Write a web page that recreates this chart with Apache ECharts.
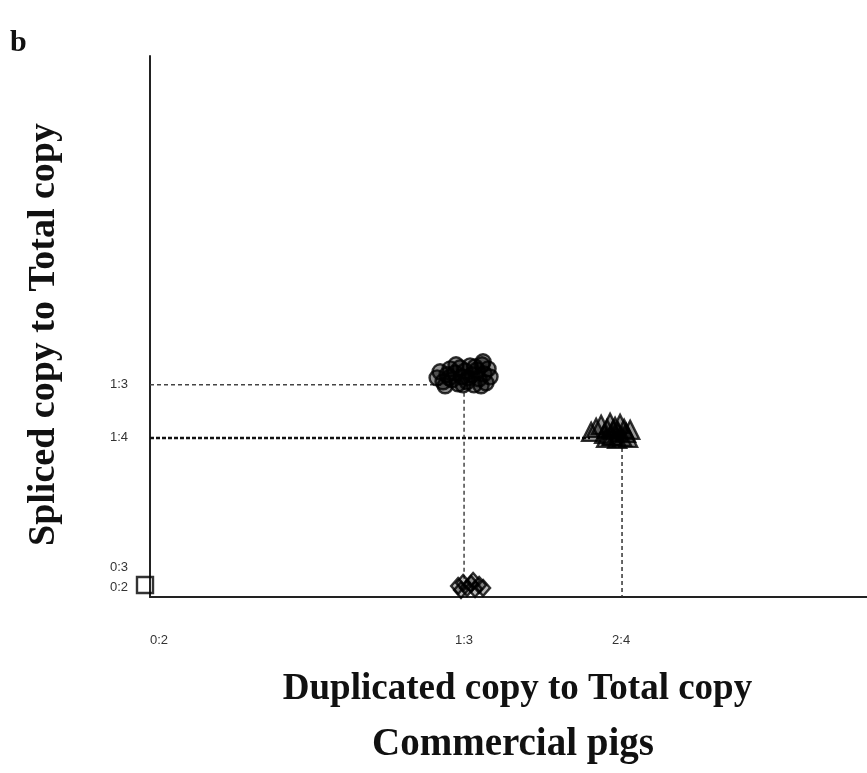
<!DOCTYPE html>
<html><head><meta charset="utf-8">
<script src="https://cdn.jsdelivr.net/npm/echarts@6/dist/echarts.min.js"></script>
<style>html,body{margin:0;padding:0;background:#fff}#c{width:867px;height:773px}</style>
</head><body><div id="c"></div>
<script>
// Ratio ticks
const xTickValues = [0, 1/3, 0.5];
const xTickLabels = ['0:2', '1:3', '2:4'];
const yTickValues = [0.25, 1/3];
const yTickLabels = ['1:4', '1:3'];
const yZeroValues = [0];
const yZeroLabels = ['0:3\n0:2'];

// Observations (duplicated ratio, spliced ratio), jittered as in the figure
const circles = [
  [0.3047,0.3443],[0.3079,0.3538],[0.3110,0.3381],[0.3153,0.3491],[0.3185,0.3585],
  [0.3206,0.3412],[0.3238,0.3522],[0.3270,0.3349],[0.3291,0.3601],[0.3312,0.3459],
  [0.3344,0.3553],[0.3365,0.3381],[0.3397,0.3632],[0.3418,0.3491],[0.3439,0.3333],
  [0.3471,0.3569],[0.3493,0.3428],[0.3524,0.3648],[0.3546,0.3506],[0.3567,0.3365],
  [0.3588,0.3585],[0.3609,0.3459],[0.3132,0.3318],[0.3248,0.3648],[0.3376,0.3443],
  [0.3450,0.3616],[0.3514,0.3318],[0.3174,0.3443],[0.3323,0.3333],[0.3535,0.3695]
];
const triangles = [
  [0.4682,0.2594],[0.4735,0.2657],[0.4788,0.2704],[0.4820,0.2563],[0.4851,0.2642],
  [0.4883,0.2736],[0.4904,0.2531],[0.4936,0.2673],[0.4968,0.2594],[0.4989,0.2720],
  [0.5011,0.2516],[0.5032,0.2642],[0.5053,0.2579],[0.5074,0.2500],[0.5096,0.2626],
  [0.4915,0.2626],[0.4841,0.2500],[0.4958,0.2484]
];
const diamonds = [
  [0.3270,0.0173],[0.3323,0.0220],[0.3365,0.0142],[0.3408,0.0204],[0.3450,0.0126],
  [0.3493,0.0189],[0.3535,0.0142],[0.3301,0.0110],[0.3429,0.0252]
];
const squares = [[0, 0]];
const squares2 = [[0.4904, 0.2469]];

// Guide lines
const guide13h = [[0, 1/3], [0.31, 1/3]];
const guide13v = [[1/3, 0.332], [1/3, 0.028]];
const guide14h = [[0, 0.25], [0.467, 0.25]];
const guide24v = [[0.501, 0.245], [0.501, 0]];

const chart = echarts.init(document.getElementById('c'));
const lblMap = (vals, labels) => v => { const i = vals.findIndex(t => Math.abs(t - v) < 1e-6); return i >= 0 ? labels[i] : ''; };
const mk = (data, symbol, size, fill, extra) => Object.assign({
  type: 'scatter', data, symbol, symbolSize: size, clip: false, silent: true,
  itemStyle: { color: fill, borderColor: '#000', borderWidth: 2.4 }
}, extra || {});
const guide = (data, w, col, dash) => ({
  type: 'line', data, symbol: 'none', silent: true, z: 1,
  lineStyle: { color: col, width: w, type: dash }
});
const labelFont = { fontFamily: 'Liberation Sans', fontSize: 13, color: '#333' };

chart.setOption({
  animation: false,
  backgroundColor: '#fff',
  grid: { left: 150, right: 0, top: 56, bottom: 176 },
  xAxis: {
    type: 'value', min: 0, max: 0.761,
    name: 'Duplicated copy to Total copy', nameLocation: 'middle', nameGap: 74,
    nameTextStyle: { fontFamily: 'Liberation Serif', fontWeight: 'bold', fontSize: 37, color: '#111', padding: [0, 0, 0, 18] },
    axisLine: { show: true, lineStyle: { color: '#222', width: 2 } },
    axisTick: { show: false },
    splitLine: { show: false },
    axisLabel: Object.assign({
      customValues: xTickValues, formatter: lblMap(xTickValues, xTickLabels),
      margin: 37, alignMinLabel: 'left'
    }, labelFont)
  },
  yAxis: [{
    type: 'value', min: 0, max: 0.85,
    name: 'Spliced copy to Total copy', nameLocation: 'middle', nameGap: 87, nameRotate: 90,
    nameTextStyle: { fontFamily: 'Liberation Serif', fontWeight: 'bold', fontSize: 38, color: '#111', padding: [0, 16, 0, 0] },
    axisLine: { show: true, lineStyle: { color: '#222', width: 2 } },
    axisTick: { show: false },
    splitLine: { show: false },
    axisLabel: Object.assign({
      customValues: yTickValues, formatter: lblMap(yTickValues, yTickLabels), margin: 22
    }, labelFont)
  }, {
    type: 'value', min: 0, max: 0.85, position: 'left',
    axisLine: { show: false }, axisTick: { show: false }, splitLine: { show: false },
    axisLabel: Object.assign({
      customValues: yZeroValues, formatter: lblMap(yZeroValues, yZeroLabels), margin: 22,
      lineHeight: 20, verticalAlign: 'bottom'
    }, labelFont)
  }],
  graphic: [
    { type: 'text', x: 10, y: 28, style: { text: 'b', font: 'bold 30px "Liberation Serif"', fill: '#111' } },
    { type: 'text', x: 513, y: 745, style: { text: 'Commercial pigs', font: 'bold 39px "Liberation Serif"', fill: '#111', textAlign: 'center', textVerticalAlign: 'middle' } }
  ],
  series: [
    guide(guide13h, 1.5, '#444', [4, 3]),
    guide(guide13v, 1.5, '#444', [4, 3]),
    guide(guide14h, 2.5, '#111', [4, 2]),
    guide(guide24v, 1.5, '#333', [4, 3]),
    mk(squares, 'rect', 16, 'rgba(255,255,255,0)', { symbolOffset: [-5, -12] }),
    mk(squares2, 'rect', [18, 10], 'rgba(255,255,255,0)'),
    mk(circles, 'circle', 15, 'rgba(0,0,0,0.55)'),
    mk(triangles, 'triangle', 18, 'rgba(0,0,0,0.5)'),
    mk(diamonds, 'diamond', [14, 16], 'rgba(0,0,0,0.35)')
  ]
});
</script></body></html>
